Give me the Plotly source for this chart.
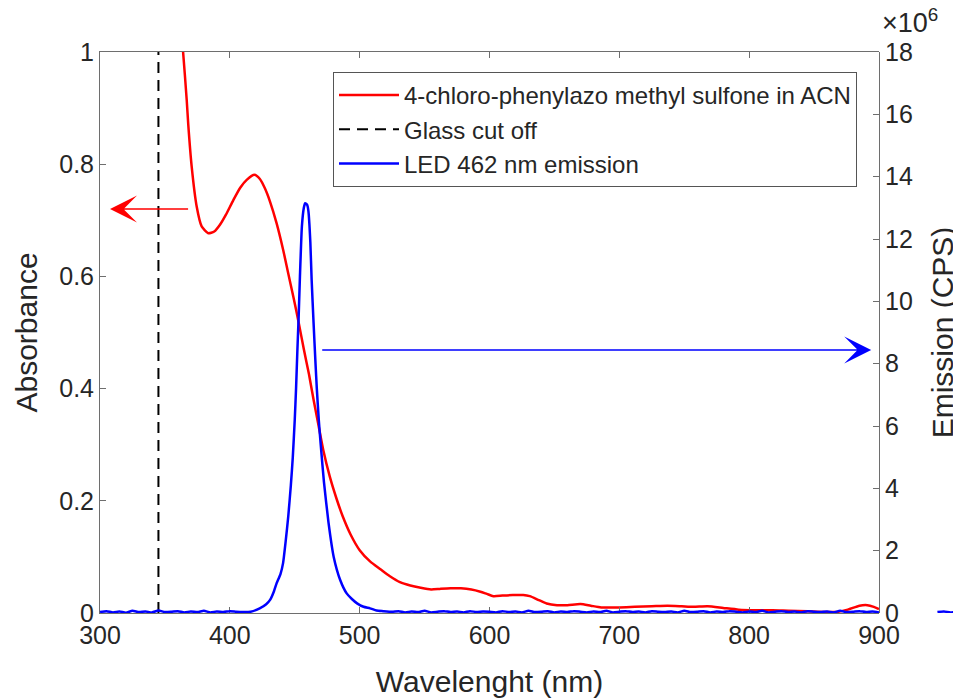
import plotly.graph_objects as go

# ---------------- data ----------------
abs_wl = [340, 355, 360, 364, 366.8, 368, 370.6, 374.5, 378.3, 383.4, 388, 392.4, 397, 402.7,
          408, 413, 419, 423, 427, 431, 436, 441, 445, 449, 453, 457, 461, 464.5, 468, 472, 477,
          482, 487, 493, 500, 508, 516, 523, 531, 539, 547, 555, 562, 570, 578, 586, 593,
          598, 603, 610, 618, 626, 631, 638, 644, 652, 660, 670, 678, 686, 700, 712, 725,
          737, 748, 757, 768, 780, 792, 805, 818, 830, 845, 858, 868, 876, 885, 891, 896, 900]
abs_val = [1.6, 1.25, 1.1, 1.0, 0.914, 0.87, 0.796, 0.724, 0.689, 0.677, 0.680, 0.692, 0.710, 0.736,
           0.758, 0.772, 0.781, 0.774, 0.757, 0.733, 0.695, 0.648, 0.605, 0.563, 0.518, 0.470, 0.425,
           0.380, 0.338, 0.290, 0.243, 0.205, 0.172, 0.140, 0.112, 0.092, 0.078, 0.066, 0.055, 0.049,
           0.045, 0.042, 0.043, 0.044, 0.044, 0.042, 0.038, 0.034, 0.030, 0.031, 0.032, 0.032, 0.030,
           0.023, 0.017, 0.014, 0.014, 0.016, 0.013, 0.010, 0.010, 0.011, 0.012, 0.013, 0.012, 0.011,
           0.012, 0.009, 0.006, 0.005, 0.005, 0.004, 0.003, 0.002, 0.002, 0.006, 0.013, 0.014, 0.011,
           0.007]

glass_wl = [345, 345]
glass_val = [0, 1]

led_wl = [300, 305, 310, 315, 320, 325, 330, 335, 340, 345, 350, 355, 360, 365, 370, 375, 380, 385,
          390, 395, 400, 405, 410, 416, 423, 428, 431, 434, 436, 439, 441, 443, 445, 447, 448.5,
          450, 451, 452, 453, 454, 455.5, 457, 458, 459.5, 460.5, 462, 463, 464.5, 466, 467, 468.5,
          470, 472.5, 476, 480, 485, 490, 494, 498, 503, 508, 513, 518, 525, 530, 535, 540, 545,
          550, 555, 560, 565, 570, 575, 580, 585, 590, 595, 600, 605, 610, 615, 620, 625, 630, 635,
          640, 645, 650, 655, 660, 665, 670, 675, 680, 685, 690, 695, 700, 705, 710, 715, 720, 725,
          730, 735, 740, 745, 750, 755, 760, 765, 770, 775, 780, 785, 790, 795, 800, 805, 810, 815,
          820, 825, 830, 835, 840, 845, 850, 855, 860, 865, 870, 875, 880, 885, 890, 895, 900,
          902, 945, 950, 955, 960, 965]
# emission in units of 1e6 CPS
led_val = [0.03, 0.06, 0.02, 0.05, 0.01, 0.07, 0.03, 0.05, 0.02, 0.08, 0.03, 0.04, 0.06, 0.02, 0.05,
           0.03, 0.07, 0.02, 0.05, 0.03, 0.06, 0.04, 0.03, 0.04, 0.15, 0.28, 0.42, 0.70, 0.95, 1.25,
           1.60, 2.30, 3.10, 4.10, 5.00, 6.20, 7.20, 8.40, 9.50, 10.8, 12.4, 13.0, 13.15, 13.1, 12.9,
           11.9, 10.7, 9.3, 8.0, 7.2, 6.2, 5.4, 4.2, 2.9, 1.8, 1.06, 0.63, 0.45, 0.31, 0.20, 0.15,
           0.08, 0.06, 0.04, 0.06, 0.02, 0.05, 0.03, 0.07, 0.02, 0.04, 0.06, 0.03, 0.05, 0.02, 0.06,
           0.03, 0.05, 0.04, 0.02, 0.06, 0.03, 0.05, 0.02, 0.07, 0.03, 0.04, 0.06, 0.02, 0.05, 0.03,
           0.06, 0.04, 0.02, 0.05, 0.03, 0.07, 0.02, 0.04, 0.06, 0.03, 0.05, 0.02, 0.06, 0.04, 0.03,
           0.05, 0.02, 0.07, 0.03, 0.04, 0.06, 0.02, 0.05, 0.03, 0.06, 0.04, 0.02, 0.05, 0.03, 0.07,
           0.02, 0.04, 0.06, 0.03, 0.05, 0.02, 0.06, 0.04, 0.03, 0.05, 0.02, 0.07, 0.03, 0.04, 0.06,
           0.03, 0.05, 0.02, None, 0.03, 0.05, 0.02, 0.04, 0.03]
led_scale = 1e6

x_ticks = [300, 400, 500, 600, 700, 800, 900]
y_ticks = [0, 0.2, 0.4, 0.6, 0.8, 1]
y2_tick_vals = [0, 2, 4, 6, 8, 10, 12, 14, 16, 18]

# arrow annotations (data coordinates)
red_arrow = dict(x_head=307.7, x_tail=369, y=0.72)
blue_arrow = dict(x_head=894, x_tail=470, y=8.44)

# ---------------- layout geometry ----------------
# page body has an 8px margin, so paper pixel = screen pixel - 8
W, H = 961, 700
OFF = 8
px_left, px_right, px_top, px_bottom = 100 - OFF, 879 - OFF, 52 - OFF, 613 - OFF
xd = [px_left / W, px_right / W]
yd = [(H - px_bottom) / H, (H - px_top) / H]
x_lo, x_hi = 300, 900
scale = (x_hi - x_lo) / (px_right - px_left)
x2_range = [x_lo - px_left * scale, x_lo + (W - px_left) * scale]

FONT = "Liberation Sans, Arial, sans-serif"
TXT = "#262626"
AX = "#6e6e6e"

fig = go.Figure()
fig.add_trace(go.Scatter(x=abs_wl, y=abs_val, mode="lines",
                         line=dict(color="#ff0000", width=2.5, shape="spline", smoothing=0.6),
                         name="4-chloro-phenylazo methyl sulfone in ACN", xaxis="x", yaxis="y"))
fig.add_trace(go.Scatter(x=glass_wl, y=glass_val, mode="lines",
                         line=dict(color="#000000", width=2, dash="11px,7px"),
                         name="Glass cut off", xaxis="x", yaxis="y"))
fig.add_trace(go.Scatter(x=led_wl, y=[None if v is None else v * led_scale for v in led_val],
                         mode="lines", line=dict(color="#0000ff", width=2.5, shape="spline", smoothing=0.5),
                         name="LED 462 nm emission", xaxis="x2", yaxis="y2", connectgaps=False))

fig.update_layout(
    width=W, height=H,
    margin=dict(l=0, r=0, t=0, b=0, autoexpand=False),
    paper_bgcolor="white", plot_bgcolor="rgba(0,0,0,0)",
    font=dict(family=FONT, color=TXT, size=25),
    showlegend=True,
    legend=dict(x=(857 - OFF) / W, y=(H - 72 + OFF) / H, xanchor="right", yanchor="top",
                bgcolor="white", bordercolor="#555555", borderwidth=1,
                font=dict(size=24, family=FONT, color=TXT), tracegroupgap=0,
                itemwidth=60),
    xaxis=dict(domain=xd, range=[x_lo, x_hi], tickvals=x_ticks, ticks="inside", ticklen=6,
               tickcolor=AX, showline=True, linecolor=AX, linewidth=1, mirror="ticks",
               showgrid=False, zeroline=False, anchor="y", automargin=True,
               tickfont=dict(size=25, family=FONT, color=TXT),
               title=dict(text="Wavelenght (nm)", standoff=22,
                          font=dict(size=30, family=FONT, color=TXT))),
    yaxis=dict(domain=yd, range=[0, 1], tickvals=y_ticks, ticktext=["0", "0.2", "0.4", "0.6", "0.8", "1"],
               ticks="inside", ticklen=6, tickcolor=AX, showline=True, linecolor=AX, linewidth=1,
               showgrid=False, zeroline=False, anchor="x", automargin=True,
               tickfont=dict(size=25, family=FONT, color=TXT),
               title=dict(text="Absorbance", standoff=12,
                          font=dict(size=30, family=FONT, color=TXT))),
    xaxis2=dict(domain=[0, 1], range=x2_range, visible=False, anchor="y2", showgrid=False,
                automargin=False),
    yaxis2=dict(domain=yd, range=[0, 18e6], side="right", anchor="free", position=xd[1],
                tickvals=[v * led_scale for v in y2_tick_vals], ticktext=[str(v) for v in y2_tick_vals],
                ticks="inside", ticklen=6, tickcolor=AX, showline=True, linecolor=AX, linewidth=1,
                showgrid=False, zeroline=False, automargin=True,
                tickfont=dict(size=25, family=FONT, color=TXT),
                title=dict(text="Emission (CPS)", standoff=20,
                           font=dict(size=30, family=FONT, color=TXT))),
)

fig.add_annotation(x=red_arrow["x_head"], y=red_arrow["y"], ax=red_arrow["x_tail"], ay=red_arrow["y"],
                   xref="x", yref="y", axref="x", ayref="y", text="", showarrow=True,
                   arrowhead=3, arrowsize=3, arrowwidth=1.5, arrowcolor="#ff0000")
fig.add_annotation(x=blue_arrow["x_head"], y=blue_arrow["y"] * led_scale, ax=blue_arrow["x_tail"],
                   ay=blue_arrow["y"] * led_scale,
                   xref="x", yref="y2", axref="x", ayref="y2", text="", showarrow=True,
                   arrowhead=3, arrowsize=3, arrowwidth=1.5, arrowcolor="#0000ff")
fig.add_annotation(x=(880 - OFF) / W, y=(H - 21 + OFF) / H, xref="paper", yref="paper",
                   xanchor="left", yanchor="middle",
                   text="×10<sup>6</sup>", showarrow=False, font=dict(size=27, family=FONT, color=TXT))

fig.write_html("out.html")
